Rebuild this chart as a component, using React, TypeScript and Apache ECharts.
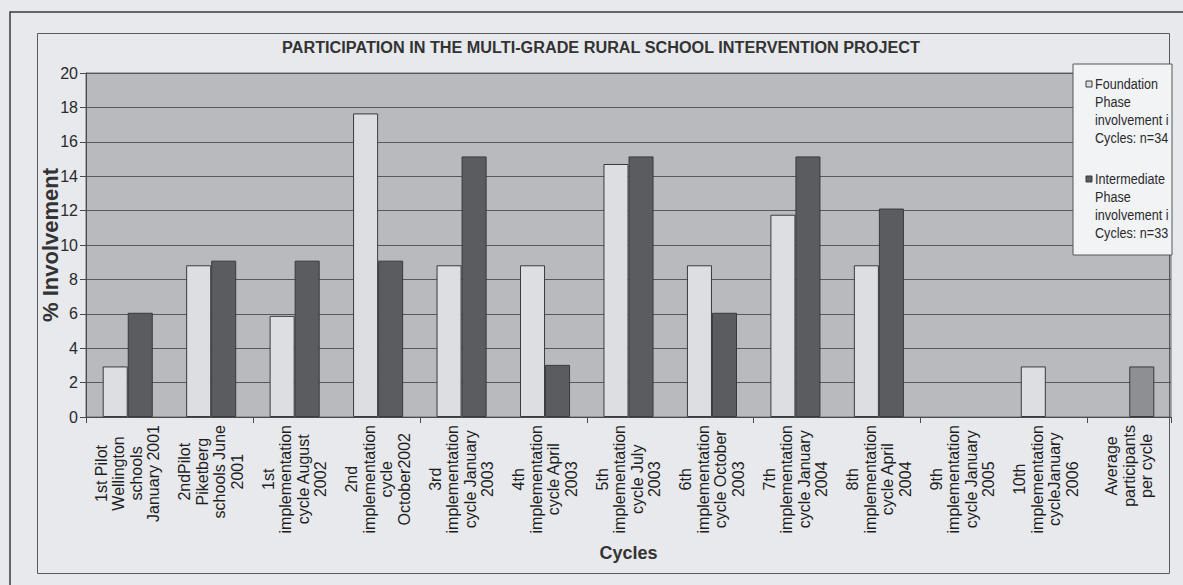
import React, { useEffect, useRef } from "react";
import * as echarts from "echarts";

// Cycle labels, one line per "\n"
const categories = [
  "1st Pilot\nWellington\nschools\nJanuary 2001",
  "2ndPilot\nPiketberg\nschools June\n2001",
  "1st\nimplementation\ncycle August\n2002",
  "2nd\nimplementation\ncycle\nOctober2002",
  "3rd\nimplementation\ncycle January\n2003",
  "4th\nimplementation\ncycle April\n2003",
  "5th\nimplementation\ncycle July\n2003",
  "6th\nimplementation\ncycle October\n2003",
  "7th\nimplementation\ncycle January\n2004",
  "8th\nimplementation\ncycle April\n2004",
  "9th\nimplementation\ncycle January\n2005",
  "10th\nimplementation\ncycleJanuary\n2006",
  "Average\nparticipants\nper cycle",
];

// % involvement per cycle (null = no bar)
const foundation = [2.94, 8.82, 5.88, 17.65, 8.82, 8.82, 14.71, 8.82, 11.76, 8.82, null, 2.94, null];
const intermediate = [6.06, 9.09, 9.09, 9.09, 15.15, 3.03, 15.15, 6.06, 15.15, 12.12, null, null, 2.94];

const seriesNames = [
  "Foundation\nPhase\ninvolvement in\nCycles: n=34",
  "Intermediate\nPhase\ninvolvement in\nCycles: n=33",
];

const titleText = "PARTICIPATION IN THE MULTI-GRADE RURAL SCHOOL INTERVENTION PROJECT";
const yName = "% Involvement";
const xName = "Cycles";

const SANS = "'Liberation Sans', Arial, sans-serif";

const LIGHT = "#dcdee2";
const DARK = "#5b5c60";
const MID = "#8e8f93";
const EDGE = "#3a3a3e";

export default function App() {
  const ref = useRef<HTMLDivElement>(null);

  useEffect(() => {
    if (!ref.current) return;
    const chart = echarts.init(ref.current, null, { renderer: "svg" });

    const option: any = {
      animation: false,
      backgroundColor: "#e7e9ed",
      grid: {
        left: 86,
        right: 12,
        top: 73,
        bottom: 168,
        show: true,
        backgroundColor: "#b8babe",
        borderColor: "#6a6a6e",
        borderWidth: 1,
      },
      xAxis: {
        type: "category",
        data: categories,
        name: xName,
        nameLocation: "middle",
        nameGap: 127,
        nameTextStyle: {
          fontFamily: SANS,
          fontSize: 18,
          fontWeight: "bold",
          color: "#333",
        },
        axisLine: { lineStyle: { color: "#4a4a4e", width: 1 } },
        axisTick: { show: true, length: 6, alignWithLabel: false, lineStyle: { color: "#4a4a4e" } },
        axisLabel: { show: false },
        splitLine: { show: false },
      },
      yAxis: {
        type: "value",
        min: 0,
        max: 20,
        interval: 2,
        axisLine: { show: true, lineStyle: { color: "#4a4a4e", width: 1 } },
        axisTick: { show: true, length: 6, lineStyle: { color: "#4a4a4e" } },
        axisLabel: {
          fontFamily: SANS,
          fontSize: 16,
          color: "#2a2a2e",
          margin: 8,
        },
        splitLine: { lineStyle: { color: "#58585c", width: 1 } },
      },
      series: [
        {
          name: seriesNames[0],
          type: "bar",
          data: foundation,
          barGap: "0%",
          barCategoryGap: "40%",
          itemStyle: { color: LIGHT, borderColor: EDGE, borderWidth: 1 },
        },
        {
          name: seriesNames[1],
          type: "bar",
          data: intermediate.map((v, i) =>
            i === intermediate.length - 1 && v !== null ? { value: v, itemStyle: { color: MID } } : v
          ),
          barGap: "0%",
          barCategoryGap: "40%",
          itemStyle: { color: DARK, borderColor: EDGE, borderWidth: 1 },
        },
      ],
    };

    chart.setOption(option);

    // Rotated, centre-aligned category labels placed on the category axis
    const canvas = document.createElement("canvas");
    const ctx = canvas.getContext("2d")!;
    const labelFont = `16px ${SANS}`;
    ctx.font = labelFont;
    const baseY = chart.convertToPixel({ yAxisIndex: 0 }, 0) as number;
    const topY = chart.convertToPixel({ yAxisIndex: 0 }, 20) as number;
    const labelEls = categories.map((c, i) => {
      const cx = chart.convertToPixel({ xAxisIndex: 0 }, i) as number;
      const w = Math.max(...c.split("\n").map((l) => ctx.measureText(l).width));
      return {
        type: "text",
        x: cx,
        y: baseY + 8 + w / 2,
        rotation: Math.PI / 2,
        style: {
          text: c,
          font: labelFont,
          fill: "#1e1e22",
          align: "center",
          verticalAlign: "middle",
          lineHeight: 17.5,
        },
        silent: true,
      };
    });

    // Value axis name, centred on the plot height
    const yNameEl = {
      type: "text",
      x: 50,
      y: (baseY + topY) / 2,
      rotation: Math.PI / 2,
      style: {
        text: yName,
        font: `bold 22px ${SANS}`,
        fill: "#333",
        align: "center",
        verticalAlign: "middle",
      },
      silent: true,
    };

    // Chart title, slightly condensed
    const titleEl = {
      type: "text",
      x: 601,
      y: 47,
      scaleX: 0.955,
      style: {
        text: titleText,
        font: `bold 17px ${SANS}`,
        fill: "#333",
        align: "center",
        verticalAlign: "middle",
      },
      silent: true,
    };

    // Legend box
    const legendX = 1073;
    const legendY = 64;
    const legendEls: any[] = [
      {
        type: "rect",
        shape: { x: legendX, y: legendY, width: 99, height: 191 },
        style: { fill: "#f2f3f5", stroke: "#55565a", lineWidth: 1 },
        z: 10,
      },
    ];
    const itemTops = [75, 170];
    const fills = [LIGHT, DARK];
    const legendScale = 0.84;
    seriesNames.forEach((n, k) => {
      legendEls.push({
        type: "rect",
        shape: { x: legendX + 13, y: itemTops[k] + 6, width: 6, height: 6 },
        style: { fill: fills[k], stroke: EDGE, lineWidth: 1 },
        z: 11,
      });
      legendEls.push({
        type: "text",
        x: legendX + 22,
        y: itemTops[k],
        scaleX: legendScale,
        style: {
          text: n,
          font: `15px ${SANS}`,
          fill: "#2a2a2e",
          align: "left",
          verticalAlign: "top",
          lineHeight: 17.8,
          width: 92,
          overflow: "truncate",
          ellipsis: "",
        },
        z: 11,
      });
    });

    // Page frames
    const frameEls = [
      {
        type: "rect",
        shape: { x: 10, y: 12, width: 1300, height: 700 },
        style: { fill: "none", stroke: "#3a3a3e", lineWidth: 1.5 },
        silent: true,
      },
      {
        type: "rect",
        shape: { x: 37.5, y: 33.5, width: 1132, height: 540 },
        style: { fill: "none", stroke: "#5a5a5e", lineWidth: 1 },
        silent: true,
      },
    ];

    chart.setOption({ graphic: [...frameEls, titleEl, yNameEl, ...labelEls, ...legendEls] });

    return () => chart.dispose();
  }, []);

  return (
    <div
      ref={ref}
      style={{ position: "fixed", left: 0, top: 0, width: 1183, height: 585 }}
    />
  );
}
